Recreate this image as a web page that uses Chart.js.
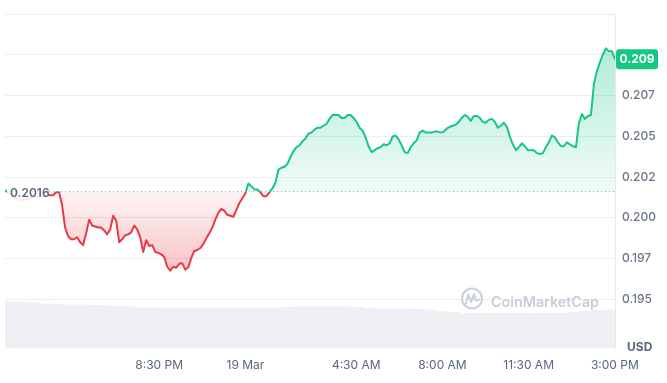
<!DOCTYPE html>
<html><head><meta charset="utf-8">
<script src="https://cdn.jsdelivr.net/npm/chart.js@4.4.1/dist/chart.umd.min.js"></script>
<style>html,body{margin:0;padding:0;background:#fff;}canvas{display:block;}</style>
</head><body>
<canvas id="c" width="667" height="383"></canvas>
<script>
// ---- data ----
const prices = [
0.20168,0.20156,0.20144,0.20129,0.20117,0.20108,0.20111,0.20114,0.20120,0.20123,
0.20126,0.20132,0.20138,0.20144,0.20141,0.20138,0.20138,0.20156,0.20156,0.20078,
0.19940,0.19886,0.19868,0.19868,0.19880,0.19850,0.19832,0.19904,0.19988,0.19952,
0.19946,0.19940,0.19940,0.19922,0.19898,0.19928,0.20012,0.19982,0.19850,0.19868,
0.19892,0.19898,0.19910,0.19952,0.19928,0.19880,0.19790,0.19862,0.19826,0.19832,
0.19790,0.19784,0.19775,0.19759,0.19699,0.19675,0.19699,0.19693,0.19717,0.19720,
0.19681,0.19696,0.19753,0.19796,0.19802,0.19814,0.19838,0.19874,0.19904,0.19940,
0.19988,0.20030,0.20054,0.20042,0.20018,0.20012,0.20006,0.20048,0.20090,0.20120,
0.20150,0.20210,0.20192,0.20174,0.20174,0.20156,0.20132,0.20132,0.20156,0.20180,
0.20216,0.20295,0.20307,0.20313,0.20331,0.20373,0.20409,0.20433,0.20445,0.20469,
0.20487,0.20517,0.20523,0.20541,0.20553,0.20553,0.20565,0.20577,0.20607,0.20631,
0.20631,0.20631,0.20613,0.20613,0.20631,0.20631,0.20613,0.20589,0.20553,0.20535,
0.20493,0.20439,0.20403,0.20415,0.20427,0.20433,0.20451,0.20445,0.20457,0.20499,
0.20505,0.20481,0.20445,0.20403,0.20397,0.20433,0.20457,0.20475,0.20523,0.20535,
0.20523,0.20523,0.20523,0.20529,0.20529,0.20523,0.20529,0.20547,0.20559,0.20565,
0.20571,0.20589,0.20613,0.20631,0.20619,0.20595,0.20625,0.20625,0.20613,0.20589,
0.20583,0.20601,0.20607,0.20589,0.20553,0.20565,0.20583,0.20559,0.20499,0.20451,
0.20415,0.20433,0.20457,0.20439,0.20415,0.20415,0.20415,0.20397,0.20391,0.20397,
0.20433,0.20463,0.20505,0.20493,0.20463,0.20439,0.20439,0.20463,0.20451,0.20439,
0.20433,0.20583,0.20637,0.20607,0.20625,0.20631,0.20824,0.20902,0.20956,0.21004,
0.21040,0.21022,0.21022,0.20974
];
// rolling volume, one value per 4 price points (millions USD)
const volumes = [13.9,13.8,13.6,13.2,13.0,12.9,12.9,12.8,12.6,12.5,
12.3,12.0,12.0,11.9,11.9,11.9,11.9,11.9,11.9,11.9,
11.9,11.9,11.9,12.2,12.3,12.3,12.3,12.3,12.3,12.2,
11.9,11.7,11.7,11.7,11.6,11.4,11.0,10.7,10.4,10.4,
10.4,10.4,10.4,10.4,10.4,10.4,10.4,10.6,11.0,11.3,11.4];
const VOL_EVERY = 4;
const baseline = 0.2016;
const START_MIN = 854.4;   // minutes after 00:00 18 Mar
const STEP_MIN = 7.32;     // minutes between price points
const xTickMinutes = [1230, 1440, 1710, 1920, 2130, 2340];
const xTickLabels = ['8:30 PM', '19 Mar', '4:30 AM', '8:00 AM', '11:30 AM', '3:00 PM'];
const yTickValues = [0.195, 0.1975, 0.2, 0.2025, 0.205, 0.2075, 0.21, 0.2125];
const yTickLabels = ['0.195', '0.197', '0.200', '0.202', '0.205', '0.207', '0.210', ''];

const GREEN = '#16c784', RED = '#ea3943';
Chart.defaults.font.family = 'Inter, "Noto Sans", sans-serif';

function priceGradient(chart, kind) {
  const {ctx, chartArea, scales} = chart;
  if (!chartArea || !scales.y) return kind === 'border' ? GREEN : 'rgba(22,199,132,0.15)';
  const top = chartArea.top, bottom = chartArea.bottom, h = bottom - top;
  const clamp = v => Math.min(Math.max(v, 0), 1);
  const f = clamp((scales.y.getPixelForValue(baseline) - top) / h);
  const g = ctx.createLinearGradient(0, top, 0, bottom);
  if (kind === 'border') {
    g.addColorStop(0, GREEN); g.addColorStop(f, GREEN);
    g.addColorStop(f, RED); g.addColorStop(1, RED);
  } else {
    const f2 = clamp((scales.y.getPixelForValue(Math.min(...prices)) - top) / h);
    g.addColorStop(0, 'rgba(22,199,132,0.40)');
    g.addColorStop(f, 'rgba(22,199,132,0.06)');
    g.addColorStop(f, 'rgba(234,57,67,0.05)');
    g.addColorStop(Math.max(f2, f), 'rgba(234,57,67,0.30)');
    g.addColorStop(1, 'rgba(234,57,67,0.35)');
  }
  return g;
}

const xTickPositions = xTickMinutes.map(m => (m - START_MIN) / STEP_MIN);

const decor = {
  id: 'decor',
  beforeDatasetsDraw(chart) {
    const c = chart.ctx;
    c.save();
    // watermark
    c.strokeStyle = '#ccd2db'; c.lineWidth = 2.2; c.lineCap = 'round'; c.lineJoin = 'round';
    c.beginPath(); c.arc(472, 298.5, 10, 0, Math.PI * 2); c.stroke();
    c.beginPath();
    c.moveTo(466, 303.5); c.lineTo(468.3, 294.5); c.lineTo(471, 302); c.lineTo(474, 294.5);
    c.quadraticCurveTo(475.5, 303, 479, 299.5);
    c.stroke();
    c.fillStyle = '#c8ced8';
    c.font = '600 16px Inter';
    const w = c.measureText('CoinMarketCap').width;
    const size = 16 * 108 / w;
    c.font = '600 ' + size.toFixed(2) + 'px Inter';
    c.textBaseline = 'alphabetic'; c.textAlign = 'left';
    c.fillText('CoinMarketCap', 491, 306.5);
    c.restore();
  },
  afterDatasetsDraw(chart) {
    const c = chart.ctx, y = chart.scales.y;
    const yb = y.getPixelForValue(baseline);
    c.save();
    c.fillStyle = 'rgba(255,255,255,0.88)';
    c.fillRect(7, yb - 9, 41, 21);
    c.fillStyle = '#58667e';
    c.font = '600 12px Inter';
    c.textBaseline = 'middle'; c.textAlign = 'left';
    c.fillText(baseline.toFixed(4), 10, yb + 2);
    c.restore();
  },
  afterDraw(chart) {
    const c = chart.ctx, y = chart.scales.y, area = chart.chartArea;
    const last = prices[prices.length - 1];
    const yl = y.getPixelForValue(last);
    const label = (Math.floor(last * 1000 + 1e-6) / 1000).toFixed(3);
    c.save();
    c.fillStyle = GREEN;
    const bx = area.right + 1, bw = 42, bh = 20;
    c.beginPath();
    if (c.roundRect) c.roundRect(bx, yl - bh / 2, bw, bh, 3); else c.rect(bx, yl - bh / 2, bw, bh);
    c.fill();
    c.fillStyle = '#ffffff';
    c.font = '700 12px Inter';
    c.textAlign = 'center'; c.textBaseline = 'middle';
    c.fillText(label, bx + bw / 2, yl + 0.5);
    // USD unit label
    c.fillStyle = '#58667e';
    c.font = '700 12px Inter';
    c.textAlign = 'left';
    c.fillText('USD', 627, 347);
    c.restore();
  }
};

new Chart(document.getElementById('c'), {
  data: {
    datasets: [
      {
        type: 'line', label: 'Price', order: 0, yAxisID: 'y',
        data: prices.map((p, i) => ({x: i, y: p})),
        borderWidth: 2, pointRadius: 0, tension: 0,
        borderJoinStyle: 'round', borderCapStyle: 'round',
        borderColor: ctx => priceGradient(ctx.chart, 'border'),
        backgroundColor: ctx => priceGradient(ctx.chart, 'fill'),
        fill: {target: {value: baseline}}
      },
      {
        type: 'line', label: 'Open', order: 1, yAxisID: 'y',
        data: [{x: 0, y: baseline}, {x: prices.length - 1, y: baseline}],
        borderColor: '#8c96a5', borderWidth: 1, borderDash: [1, 3],
        pointRadius: 0, fill: false
      },
      {
        type: 'bar', label: 'Volume', order: 2, yAxisID: 'yv',
        data: volumes.map((v, k) => ({x: k * VOL_EVERY + (VOL_EVERY - 1) / 2, y: v})),
        backgroundColor: '#eef0f4', borderWidth: 0,
        barPercentage: 1, categoryPercentage: 1
      }
    ]
  },
  options: {
    responsive: false, animation: false, devicePixelRatio: 1,
    layout: {padding: {left: 5, top: 7, right: 0, bottom: 0}},
    plugins: {legend: {display: false}, tooltip: {enabled: false}},
    scales: {
      x: {
        type: 'linear', min: 0, max: prices.length - 1, offset: false,
        grid: {display: false, drawTicks: false}, border: {display: false},
        afterBuildTicks: s => { s.ticks = xTickPositions.map(v => ({value: v})); },
        afterFit: s => { s.height = 35; },
        ticks: {
          autoSkip: false, maxRotation: 0, padding: 10,
          color: '#58667e', font: {size: 12, weight: '400'},
          callback: (v, i) => xTickLabels[i]
        }
      },
      y: {
        type: 'linear', position: 'right', min: 0.192, max: 0.2125,
        grid: {color: '#eceef1', drawTicks: false},
        border: {display: true, color: '#e6e8ec'},
        afterBuildTicks: s => { s.ticks = yTickValues.map(v => ({value: v})); },
        afterFit: s => { s.width = 52; },
        ticks: {
          padding: 7, color: '#6b7588', font: {size: 12, weight: '500'},
          callback: (v, i) => yTickLabels[i]
        }
      },
      yv: {type: 'linear', display: false, min: 0, max: 100}
    }
  },
  plugins: [decor]
});
</script>
</body></html>
